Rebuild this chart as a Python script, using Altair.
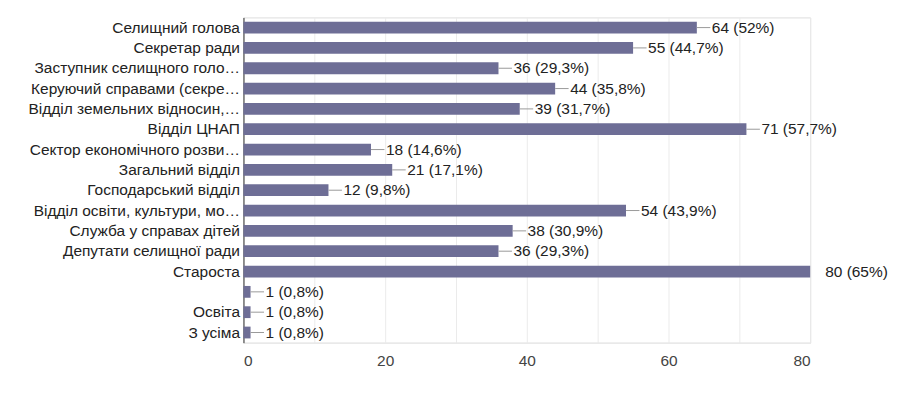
import altair as alt
import pandas as pd

categories = [
    "Селищний голова",
    "Секретар ради",
    "Заступник селищного голо…",
    "Керуючий справами (секре…",
    "Відділ земельних відносин,…",
    "Відділ ЦНАП",
    "Сектор економічного розви…",
    "Загальний відділ",
    "Господарський відділ",
    "Відділ освіти, культури, мо…",
    "Служба у справах дітей",
    "Депутати селищної ради",
    "Староста",
    " ",
    "Освіта",
    "З усіма",
]
counts = [64, 55, 36, 44, 39, 71, 18, 21, 12, 54, 38, 36, 80, 1, 1, 1]
percents = [52, 44.7, 29.3, 35.8, 31.7, 57.7, 14.6, 17.1, 9.8, 43.9, 30.9, 29.3, 65, 0.8, 0.8, 0.8]
axis_ticks = [0, 10, 20, 30, 40, 50, 60, 70, 80]

def fmt(c, p):
    ps = (f"{p:g}").replace(".", ",")
    return f"{c} ({ps}%)"

df = pd.DataFrame({
    "cat": categories,
    "count": counts,
    "label": [fmt(c, p) for c, p in zip(counts, percents)],
})
df["lead_end"] = df["count"] + 1.9
df["lead"] = df["count"] < max(counts)

FONT = "Liberation Sans"
FS = 15.5

y_enc = alt.Y("cat:N", sort=categories, title=None,
              scale=alt.Scale(paddingInner=0.42, paddingOuter=0.21),
              axis=alt.Axis(labelFont=FONT, labelFontSize=FS, labelColor="#222222",
                            labelPadding=4, ticks=False, domain=True,
                            domainColor="#333333", labelLimit=240, grid=False))
x_scale = alt.Scale(domain=[0, 80], nice=False)

bars = alt.Chart(df).mark_bar(color="#6e6e96").encode(
    y=y_enc,
    x=alt.X("count:Q", scale=x_scale, title=None,
            axis=alt.Axis(values=axis_ticks, labelFont=FONT, labelFontSize=FS,
                          labelColor="#444444", ticks=False, domainColor="#e8e8e8",
                          gridColor="#ebebeb", labelPadding=11,
                          labelExpr="datum.value % 20 == 0 ? datum.label : ''")),
)

leads = alt.Chart(df).transform_filter("datum.lead").mark_rule(color="#9a9a9a", strokeWidth=1).encode(
    y=alt.Y("cat:N", sort=categories),
    x=alt.X("count:Q", scale=x_scale),
    x2="lead_end:Q",
)

texts = alt.Chart(df).mark_text(align="left", baseline="middle", dx=15, font=FONT,
                                fontSize=FS, color="#222222").encode(
    y=alt.Y("cat:N", sort=categories),
    x=alt.X("count:Q", scale=x_scale),
    text="label:N",
)

chart = alt.layer(bars, leads, texts).properties(
    width=568, height=326,
    autosize=alt.AutoSizeParams(type="none"),
    padding={"left": 236, "top": 9, "right": 80, "bottom": 50},
).configure_view(stroke=None).configure(background="white")

chart.save("out.html", embed_options={"renderer": "svg", "actions": False})
